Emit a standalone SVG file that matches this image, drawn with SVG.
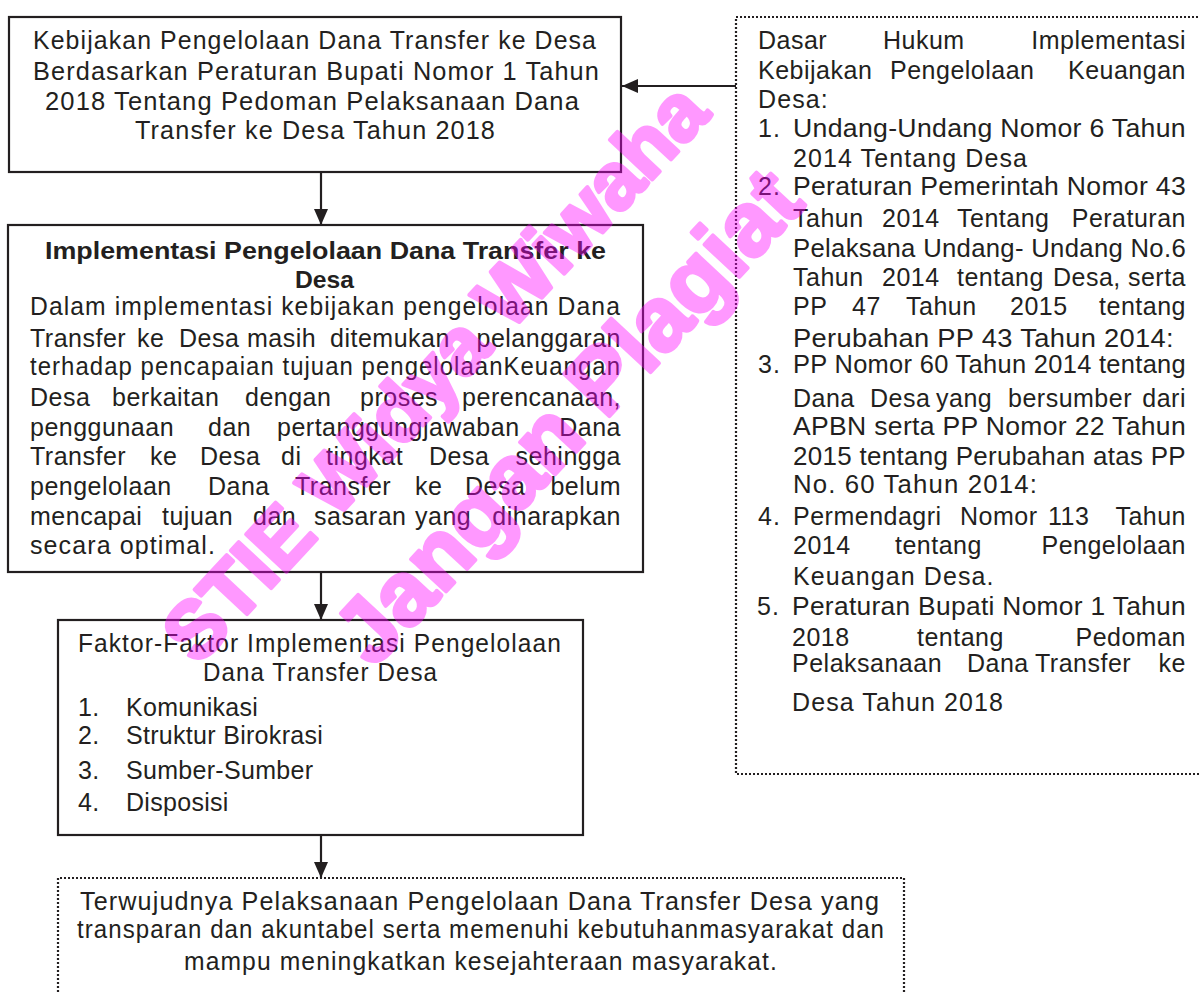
<svg xmlns="http://www.w3.org/2000/svg" width="1200" height="994" viewBox="0 0 1200 994">
<defs>
<style>
.box{fill:none;stroke:#231f20;stroke-width:2.2}
.dot{fill:none;stroke:#231f20;stroke-width:2.2;stroke-dasharray:2 2}
.t{font-family:"Liberation Sans",Arial,sans-serif;font-size:25px;letter-spacing:1.1px;fill:#231f20}
.w{font-family:"Liberation Sans",Arial,sans-serif;font-size:25px;letter-spacing:0.5px;fill:#231f20}
.n{font-family:"Liberation Sans",Arial,sans-serif;font-size:25px;letter-spacing:0.3px;fill:#231f20}
.e{text-anchor:end}
.b{font-family:"Liberation Sans",Arial,sans-serif;font-size:24px;font-weight:bold;fill:#231f20}
.c{stroke:#231f20;stroke-width:2.2;fill:none}
.wm{font-family:"Liberation Sans",Arial,sans-serif;font-weight:bold;fill:#ff00ff;stroke:#ff00ff;stroke-width:4;stroke-linejoin:round;text-anchor:middle}
</style>
<marker id="ah" markerWidth="16" markerHeight="14" refX="16" refY="7" orient="auto" markerUnits="userSpaceOnUse">
<path d="M0,0 L16,7 L0,14 Z" fill="#231f20"/>
</marker>
</defs>
<rect width="1200" height="994" fill="#ffffff"/>

<g id="connectors">
<line class="c" x1="736" y1="86" x2="622" y2="86" marker-end="url(#ah)"/>
<line class="c" x1="321" y1="172" x2="321" y2="225" marker-end="url(#ah)"/>
<line class="c" x1="321" y1="572" x2="321" y2="620" marker-end="url(#ah)"/>
<line class="c" x1="321" y1="835" x2="321" y2="878" marker-end="url(#ah)"/>
</g>

<g id="kebijakan">
<rect class="box" x="9" y="17" width="612" height="155"/>
<text class="t" x="33" y="49" textLength="564" lengthAdjust="spacingAndGlyphs">Kebijakan Pengelolaan Dana Transfer ke Desa</text>
<text class="t" x="33" y="80" textLength="567" lengthAdjust="spacingAndGlyphs">Berdasarkan  Peraturan Bupati Nomor  1 Tahun</text>
<text class="t" x="45" y="110" textLength="535" lengthAdjust="spacingAndGlyphs">2018 Tentang Pedoman Pelaksanaan Dana</text>
<text class="t" x="135" y="139" textLength="361" lengthAdjust="spacingAndGlyphs">Transfer ke Desa Tahun 2018</text>
</g>

<g id="implementasi">
<rect class="box" x="8" y="225" width="635" height="347"/>
<text class="b" x="45" y="259" textLength="561" lengthAdjust="spacingAndGlyphs">Implementasi Pengelolaan Dana Transfer ke</text>
<text class="b" x="295" y="288" textLength="59" lengthAdjust="spacingAndGlyphs">Desa</text>
<text class="t" x="30" y="315" textLength="591" lengthAdjust="spacingAndGlyphs">Dalam implementasi kebijakan pengelolaan Dana</text>
<text class="w" y="347"><tspan x="30">Transfer</tspan><tspan x="137">ke</tspan><tspan x="179">Desa</tspan><tspan x="247">masih</tspan><tspan x="330">ditemukan</tspan></text>
<text class="w e" x="621" y="347">pelanggaran</text>
<text class="t" x="30" y="375" textLength="591" lengthAdjust="spacingAndGlyphs">terhadap pencapaian tujuan pengelolaanKeuangan</text>
<text class="w" y="406"><tspan x="30">Desa</tspan><tspan x="112">berkaitan</tspan><tspan x="245">dengan</tspan><tspan x="360">proses</tspan></text>
<text class="w e" x="621" y="406">perencanaan,</text>
<text class="w" y="436"><tspan x="30">penggunaan</tspan><tspan x="208">dan</tspan><tspan x="277">pertanggungjawaban</tspan></text>
<text class="w e" x="621" y="436">Dana</text>
<text class="w" y="465"><tspan x="30">Transfer</tspan><tspan x="150">ke</tspan><tspan x="200">Desa</tspan><tspan x="281">di</tspan><tspan x="326">tingkat</tspan><tspan x="429">Desa</tspan></text>
<text class="w e" x="621" y="465">sehingga</text>
<text class="w" y="495"><tspan x="30">pengelolaan</tspan><tspan x="208">Dana</tspan><tspan x="295">Transfer</tspan><tspan x="415">ke</tspan><tspan x="465">Desa</tspan></text>
<text class="w e" x="621" y="495">belum</text>
<text class="w" y="525"><tspan x="30">mencapai</tspan><tspan x="162">tujuan</tspan><tspan x="253">dan</tspan><tspan x="314">sasaran</tspan><tspan x="415">yang</tspan></text>
<text class="w e" x="621" y="525">diharapkan</text>
<text class="t" x="30" y="554">secara optimal.</text>
</g>

<g id="faktor">
<rect class="box" x="58" y="620" width="525" height="215"/>
<text class="t" x="78" y="652" textLength="484" lengthAdjust="spacingAndGlyphs">Faktor-Faktor Implementasi Pengelolaan</text>
<text class="t" x="203" y="681" textLength="235" lengthAdjust="spacingAndGlyphs">Dana Transfer Desa</text>
<text class="n" x="78" y="716">1.</text><text class="n" x="126" y="716">Komunikasi</text>
<text class="n" x="78" y="744">2.</text><text class="n" x="126" y="744">Struktur Birokrasi</text>
<text class="n" x="78" y="779">3.</text><text class="n" x="126" y="779">Sumber-Sumber</text>
<text class="n" x="78" y="811">4.</text><text class="n" x="126" y="811">Disposisi</text>
</g>

<g id="hasil">
<path class="dot" d="M58,1000 L58,878 L904,878 L904,1000"/>
<text class="t" x="80" y="910" textLength="800" lengthAdjust="spacingAndGlyphs">Terwujudnya Pelaksanaan Pengelolaan Dana Transfer Desa yang</text>
<text class="t" x="77" y="938" textLength="808" lengthAdjust="spacingAndGlyphs">transparan dan akuntabel serta memenuhi kebutuhanmasyarakat dan</text>
<text class="t" x="184" y="970" textLength="594" lengthAdjust="spacingAndGlyphs">mampu meningkatkan kesejahteraan masyarakat.</text>
</g>

<g id="dasar-hukum">
<path class="dot" d="M1210,17 L736,17 L736,774 L1210,774"/>
<text class="w" y="49"><tspan x="758">Dasar</tspan><tspan x="883">Hukum</tspan></text>
<text class="w e" x="1186" y="49">Implementasi</text>
<text class="w" y="79"><tspan x="758">Kebijakan</tspan><tspan x="890">Pengelolaan</tspan></text>
<text class="w e" x="1186" y="79">Keuangan</text>
<text class="t" x="758" y="108">Desa:</text>
<text class="t" x="758" y="137">1.</text>
<text class="n" x="793" y="137" textLength="393" lengthAdjust="spacingAndGlyphs">Undang-Undang Nomor 6 Tahun</text>
<text class="t" x="793" y="167">2014 Tentang Desa</text>
<text class="t" x="758" y="195">2.</text>
<text class="n" x="793" y="195" textLength="393" lengthAdjust="spacingAndGlyphs">Peraturan Pemerintah Nomor 43</text>
<text class="w" y="227"><tspan x="793">Tahun</tspan><tspan x="882">2014</tspan><tspan x="957">Tentang</tspan></text>
<text class="w e" x="1186" y="227">Peraturan</text>
<text class="n" x="793" y="257" textLength="393" lengthAdjust="spacingAndGlyphs">Pelaksana Undang- Undang No.6</text>
<text class="w" y="286"><tspan x="793">Tahun</tspan><tspan x="882">2014</tspan><tspan x="957">tentang</tspan><tspan x="1053">Desa,</tspan></text>
<text class="w e" x="1186" y="286">serta</text>
<text class="w" y="315"><tspan x="793">PP</tspan><tspan x="852">47</tspan><tspan x="906">Tahun</tspan><tspan x="1010">2015</tspan></text>
<text class="w e" x="1186" y="315">tentang</text>
<text class="n" x="793" y="347" textLength="381" lengthAdjust="spacingAndGlyphs">Perubahan PP 43 Tahun 2014:</text>
<text class="t" x="758" y="373">3.</text>
<text class="n" x="793" y="373" textLength="393" lengthAdjust="spacingAndGlyphs">PP Nomor 60 Tahun 2014 tentang</text>
<text class="w" y="407"><tspan x="793">Dana</tspan><tspan x="870">Desa</tspan><tspan x="936">yang</tspan><tspan x="1008">bersumber</tspan></text>
<text class="w e" x="1186" y="407">dari</text>
<text class="n" x="793" y="435" textLength="393" lengthAdjust="spacingAndGlyphs">APBN serta PP Nomor 22 Tahun</text>
<text class="n" x="793" y="465" textLength="393" lengthAdjust="spacingAndGlyphs">2015 tentang Perubahan atas PP</text>
<text class="t" x="793" y="493" textLength="245" lengthAdjust="spacingAndGlyphs">No. 60 Tahun 2014:</text>
<text class="t" x="758" y="525">4.</text>
<text class="w" y="525"><tspan x="793">Permendagri</tspan><tspan x="960">Nomor</tspan><tspan x="1048">113</tspan></text>
<text class="w e" x="1186" y="525">Tahun</text>
<text class="w" y="554"><tspan x="793">2014</tspan><tspan x="895">tentang</tspan></text>
<text class="w e" x="1186" y="554">Pengelolaan</text>
<text class="t" x="793" y="585">Keuangan Desa.</text>
<text class="t" x="757" y="615">5.</text>
<text class="n" x="792" y="615" textLength="394" lengthAdjust="spacingAndGlyphs">Peraturan Bupati Nomor 1 Tahun</text>
<text class="w" y="646"><tspan x="792">2018</tspan><tspan x="917">tentang</tspan></text>
<text class="w e" x="1186" y="646">Pedoman</text>
<text class="w" y="672"><tspan x="792">Pelaksanaan</tspan><tspan x="967">Dana</tspan><tspan x="1035">Transfer</tspan></text>
<text class="w e" x="1186" y="672">ke</text>
<text class="t" x="792" y="711">Desa Tahun 2018</text>
</g>

<g id="watermark" opacity="0.4">
<text class="wm" x="455" y="391" font-size="80" transform="rotate(-47 455 391)">STIE Widya Wiwaha</text>
<text class="wm" x="590" y="437" font-size="90" transform="rotate(-47 590 437)">Jangan Plagiat</text>
</g>
</svg>
